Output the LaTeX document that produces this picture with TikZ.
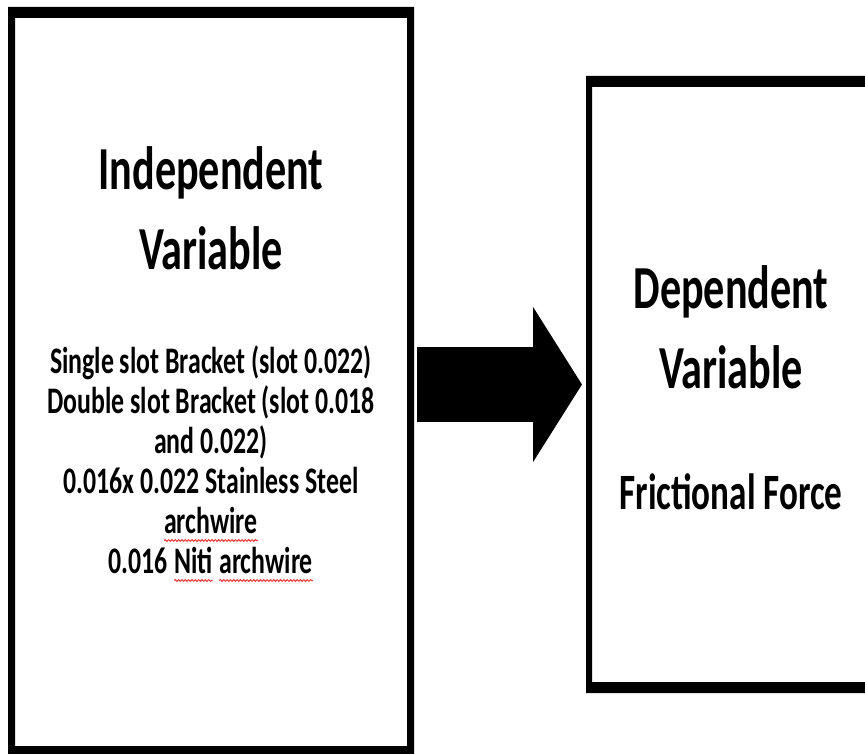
\documentclass[tikz,border=0pt]{standalone}
\usepackage{fontspec}
\setmainfont{Carlito}
\usetikzlibrary{arrows.meta,calc,decorations.pathmorphing}
\definecolor{spellRed}{RGB}{232,55,55}

% red spell-check underline under a word
\newcommand\spellmark[1]{\tikz[baseline=(w.base)]{\node[inner sep=0pt,outer sep=0pt] (w) {#1};\draw[squig] ([yshift=-2.6pt]w.base west) -- ([yshift=-2.6pt]w.base east);}}

\begin{document}
\begin{tikzpicture}[
  box/.style={rectangle, inner sep=0pt, outer sep=0pt},
  title/.style={align=center, yscale=1.45, font=\bfseries\fontsize{24}{31.4}\selectfont},
  items/.style={align=center, yscale=1.45, font=\bfseries\fontsize{14.7}{15.7}\selectfont},
  squig/.style={spellRed, line width=0.45pt, decorate, decoration={snake, amplitude=0.35pt, segment length=1.9pt}},
  blockarr/.style={line width=1.5cm, -{Triangle[length=0.98cm, width=3.06cm]}}
]
  \useasboundingbox (0,0) rectangle (17.3,15.06);
  \clip (0,0) rectangle (17.3,15.06);

  \node[box, minimum width=8.12cm, minimum height=15cm] (ind) at (4.22,7.42) {};
  \node[box, minimum width=6.28cm, minimum height=12.34cm] (dep) at (14.86,7.37) {};

  % frames: thicker along the top and bottom
  \fill[even odd rule] (ind.south west) rectangle (ind.north east)
    ($(ind.south west)+(0.14,0.22)$) rectangle ($(ind.north east)+(-0.14,-0.22)$);
  \fill[even odd rule] (dep.south west) rectangle (dep.north east)
    ($(dep.south west)+(0.12,0.22)$) rectangle ($(dep.north east)+(-0.12,-0.22)$);

  \node[title] (indT) at (4.22,10.9) {Independent\\Variable};
  \node[items] (indL) at (4.22,5.78) {Single slot Bracket (slot 0.022)\\Double slot Bracket (slot 0.018\\and 0.022)\\0.016x 0.022 Stainless Steel\\\spellmark{archwire}\\0.016 \spellmark{Niti} \spellmark{archwire}};

  \node[title] (depT) at (14.62,8.51) {Dependent\\Variable};
  \node[title, font=\bfseries\fontsize{20}{26}\selectfont] (depL) at (14.62,5.22) {Frictional Force};

  \draw[blockarr] ($(ind.east |- dep.west)+(0.06,0)$) -- ($(dep.west)+(-0.08,0)$);
\end{tikzpicture}
\end{document}
